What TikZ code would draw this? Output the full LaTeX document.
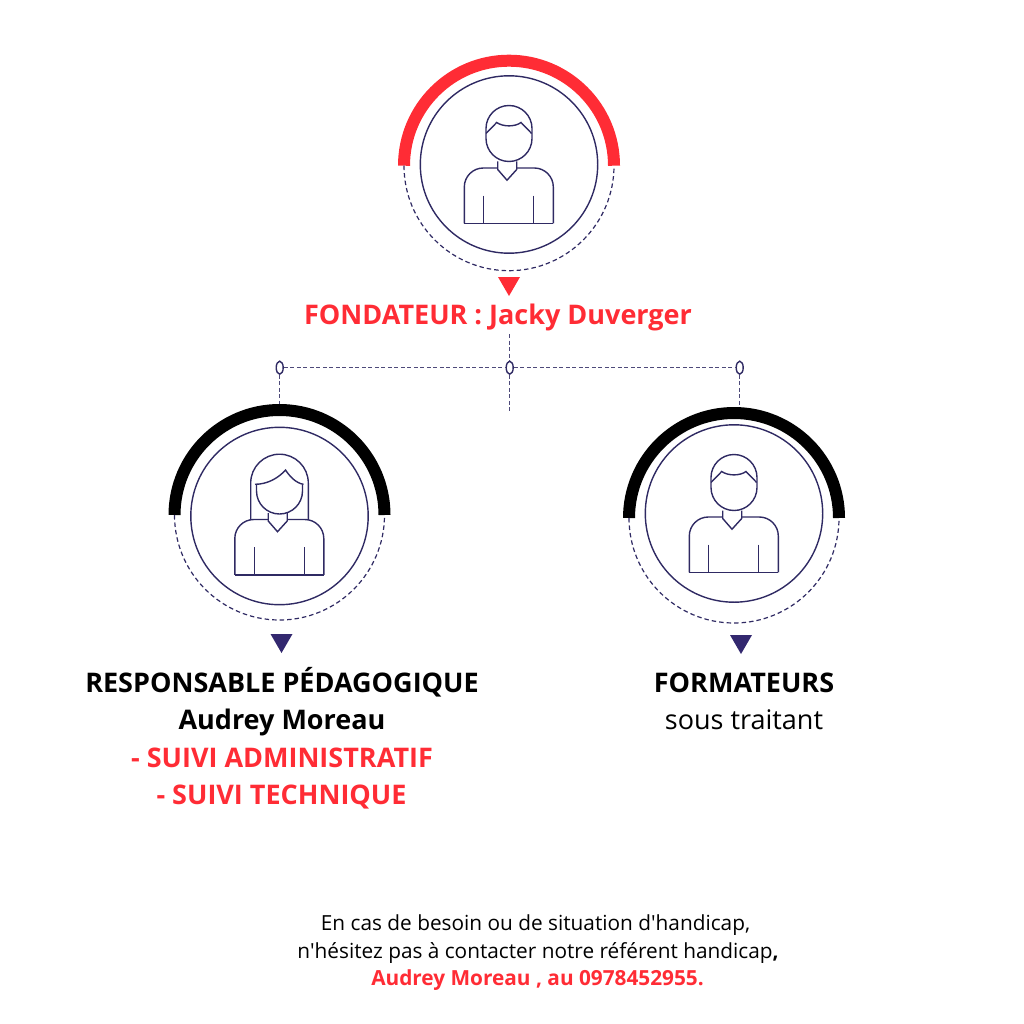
\documentclass[tikz,border=0pt]{standalone}
\usepackage{fontspec}
\setmainfont{Open Sans}
\usepackage{xcolor}
\usetikzlibrary{positioning, shapes.geometric}
\definecolor{rougeArc}{HTML}{FF2C35}
\definecolor{bleuNuit}{HTML}{2F2A63}
\definecolor{bleuTri}{HTML}{33286F}
\tikzset{
    trait/.style={draw=bleuNuit, line width=1.4pt},
    pointille/.style={draw=bleuNuit, line width=1.2pt, dash pattern=on 4.5pt off 3pt},
    liaison/.style={draw=bleuNuit!85, line width=0.9pt, dash pattern=on 4pt off 2.5pt},
    repere/.style={ellipse, draw=bleuNuit, line width=1.4pt, fill=white, minimum width=7pt, minimum height=13pt, inner sep=0pt},
    titre/.style={font=\bfseries\fontsize{27}{30}\selectfont, inner sep=0pt, anchor=base},
    note/.style={font=\fontsize{20.8}{24}\selectfont, inner sep=0pt, anchor=base},
    % Corps commun aux deux silhouettes
    buste/.pic={
        \draw[trait, rounded corners=19pt] (-44.7,58.8) -- (-44.7,3.5) -- (-11.3,3.5);
        \draw[trait, rounded corners=19pt] (7.7,3.5) -- (44.3,3.5) -- (44.3,58.8);
        \draw[trait] (-44.7,58.8) -- (44.3,58.8);
        \draw[trait] (-11.3,-3) -- (-11.3,5) -- (-2,15.7) -- (7.7,5) -- (7.7,-3);
        \draw[trait] (-25.3,31.2) -- (-25.3,58.8);
        \draw[trait] (24.7,31.2) -- (24.7,58.8);
    },
    homme/.pic={
        \pic {buste};
        % Tete et cheveux
        \draw[trait] (-23,-36) arc[start angle=180, end angle=360, radius=23] -- (23,-26) arc[start angle=0, end angle=180, radius=23] -- cycle;
        \draw[trait] (-23,-31) -- (-12.3,-42) .. controls (-6,-37.5) and (6,-37.5) .. (12,-42) -- (22.7,-31);
    },
    femme/.pic={
        \pic {buste};
        % Cheveux longs
        \draw[trait] (-28.8,4) -- (-28.8,-33) arc[start angle=180, end angle=360, radius=28.8] -- (28.8,4);
        \draw[trait] (-23,-31.7) -- (-23,-25) arc[start angle=180, end angle=0, radius=23] -- (23,-31.7);
        \draw[trait] (-24.5,-31.7) .. controls (-12,-31.7) and (-1,-38) .. (6,-46) .. controls (10,-40) and (16,-33) .. (24,-31.7);
    },
}
\begin{document}
\begin{tikzpicture}[x=1pt, y=-1pt]
    \useasboundingbox (0,0) rectangle (1024,1024);
    % Les trois cercles : centre / base de l'arc / couleur de l'arc / sommet du triangle
    \foreach \cx/\cy/\ay/\arcol/\tx/\ty/\tricol in {509/164.5/165.7/rougeArc/509/277/rougeArc, 279.5/516/515/black/281.5/634/bleuTri, 734/513.5/518/black/741/635/bleuTri} {
        \draw[trait] (\cx,\cy) circle[radius=88.7];
        \draw[\arcol, line width=12pt] (\cx-105,\ay) arc[start angle=180, end angle=360, radius=105];
        \draw[pointille] (\cx-105,\ay) arc[start angle=180, end angle=0, radius=105];
        \fill[\tricol] (\tx-11,\ty) -- (\tx+11,\ty) -- (\tx,\ty+19) -- cycle;
    }
    \pic at (509,164.5) {homme};
    \pic at (279.5,516) {femme};
    \pic at (734,513.5) {homme};
    % Liaisons
    \node[repere] (repereG) at (279.7,367.7) {};
    \node[repere] (repereM) at (509.7,367.7) {};
    \node[repere] (repereD) at (739.7,367.7) {};
    \coordinate (hautM) at (509.7,334);
    \coordinate (basM) at (509.7,413);
    \coordinate (basG) at (279.7,404);
    \coordinate (basD) at (739.7,407);
    \draw[liaison] (repereG) -- (repereM);
    \draw[liaison] (repereM) -- (repereD);
    \draw[liaison] (hautM) -- (repereM);
    \draw[liaison] (repereM) -- (basM);
    \draw[liaison] (repereG) -- (basG);
    \draw[liaison] (repereD) -- (basD);
    % Textes
    \node[titre, text=rougeArc] (fondateur) at (498,324) {FONDATEUR : Jacky Duverger};
    \node[titre] (responsable) at (282,692) {RESPONSABLE PÉDAGOGIQUE};
    \node[titre] (audrey) at (282,729) {Audrey Moreau};
    \node[titre, text=rougeArc] (admin) at (282,767.5) {- SUIVI ADMINISTRATIF};
    \node[titre, text=rougeArc] (technique) at (281.5,804) {- SUIVI TECHNIQUE};
    \node[titre] (formateurs) at (744,692) {FORMATEURS};
    \node[inner sep=0pt, anchor=base, font=\fontsize{27}{30}\selectfont] (traitant) at (744,729) {sous traitant};
    \node[note] (besoin) at (535.5,930) {En cas de besoin ou de situation d\textquotesingle handicap,};
    \node[note] (hesitez) at (538,958) {n\textquotesingle hésitez pas à contacter notre référent handicap\textbf{,}};
    \node[note, font=\bfseries\fontsize{20.8}{24}\selectfont, text=rougeArc] (contact) at (537.5,985.5) {Audrey Moreau , au 0978452955.};
\end{tikzpicture}
\end{document}
